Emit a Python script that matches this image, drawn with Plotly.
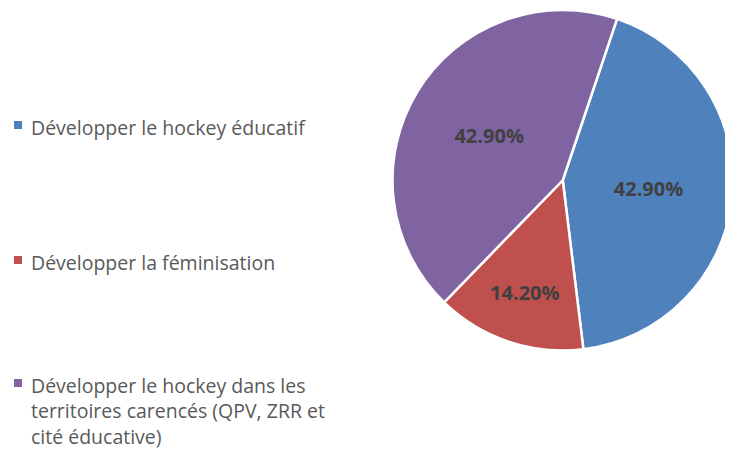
import plotly.graph_objects as go

labels = ["Développer le hockey éducatif",
          "Développer la féminisation",
          "Développer le hockey dans les territoires carencés (QPV, ZRR et cité éducative)"]
legend_lines = [["Développer le hockey éducatif"],
                ["Développer la féminisation"],
                ["Développer le hockey dans les", "territoires carencés (QPV, ZRR et", "cité éducative)"]]
values = [42.9, 14.2, 42.9]
colors = ["#4F81BD", "#C0504D", "#8064A2"]

OFF = 8  # page body margin offset
W, H = 733 - OFF, 461 - 2 * OFF


def px(x):
    return (x - OFF) / W


def py(y):
    return (H - (y - OFF)) / H


fig = go.Figure(go.Pie(
    labels=labels, values=values, sort=False, direction="clockwise", rotation=18.6,
    marker=dict(colors=colors, line=dict(color="white", width=2.5)),
    texttemplate="%{percent:.2%}", textposition="inside", insidetextorientation="horizontal",
    textfont=dict(family="Open Sans", size=20, color="#404040", weight="bold"),
    domain=dict(x=[px(392.5), 1], y=[py(352.5), 1]),
    showlegend=False, hoverinfo="label+percent"))

shapes, annotations = [], []
sq_y = [125, 260, 383]
first_line_y = [126, 261, 384]
for i, lines in enumerate(legend_lines):
    yc = sq_y[i]
    shapes.append(dict(type="rect", xref="paper", yref="paper",
                       x0=px(14), x1=px(22), y0=py(yc + 4), y1=py(yc - 4),
                       fillcolor=colors[i], line=dict(width=0)))
    annotations.append(dict(text="<br>".join(lines), xref="paper", yref="paper", x=px(29),
                            y=py(first_line_y[i] - 14), xanchor="left", yanchor="top",
                            align="left", showarrow=False,
                            font=dict(family="Open Sans", size=19.5, color="#595959")))

fig.update_layout(width=W, height=H, margin=dict(l=0, r=0, t=0, b=0),
                  paper_bgcolor="white", plot_bgcolor="white",
                  shapes=shapes, annotations=annotations)
fig.write_html("out.html")
